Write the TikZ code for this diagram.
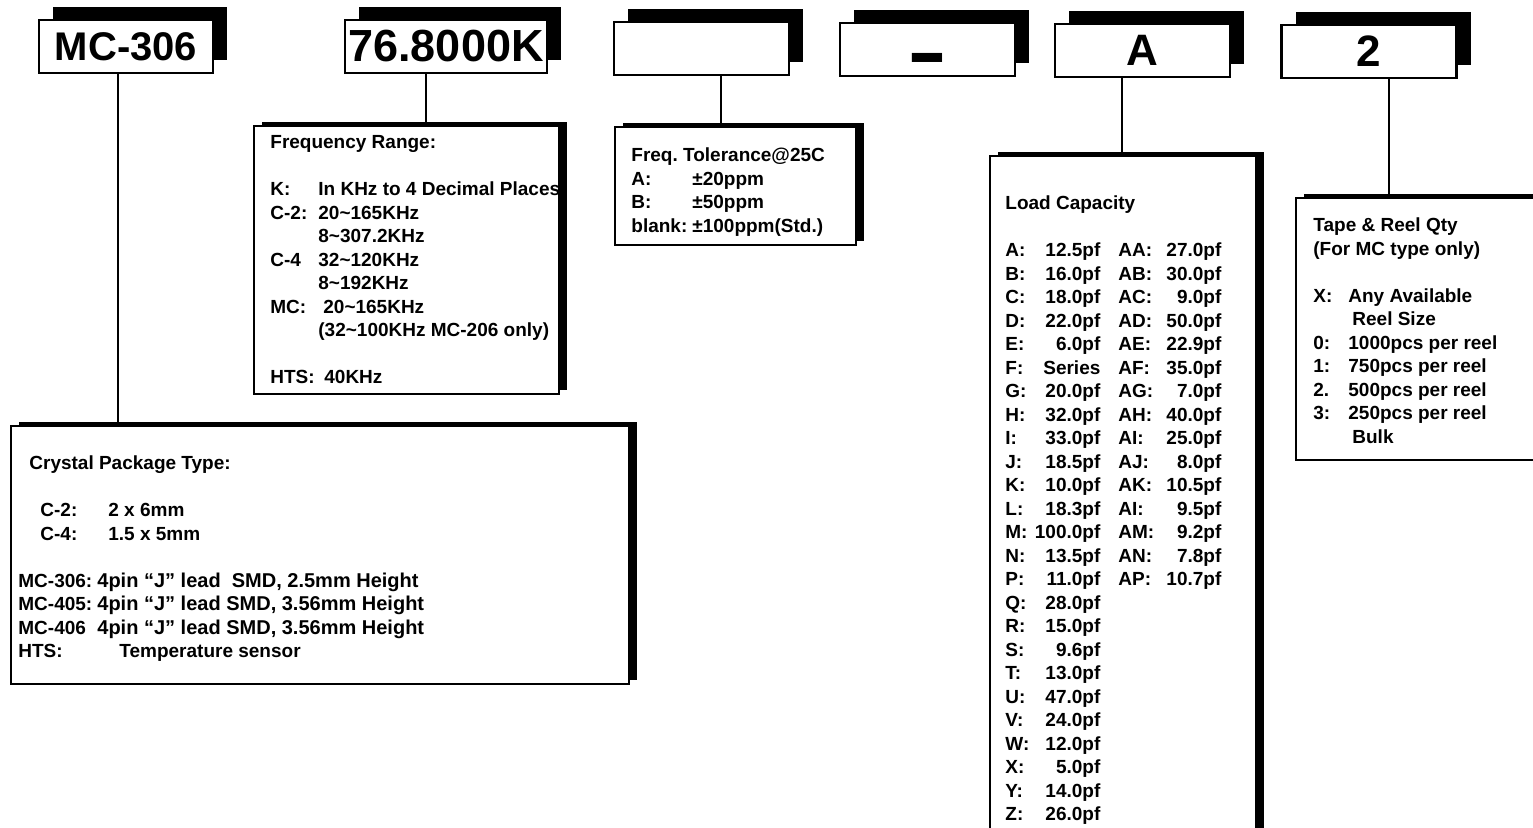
\documentclass[tikz,border=0pt]{standalone}
\usepackage{fontspec}
\setmainfont{Liberation Sans}
\usepackage{array}
\usetikzlibrary{shadows}

\newcolumntype{R}[1]{>{\raggedleft\arraybackslash}p{#1}}
\newcommand{\wave}{\textasciitilde}
\frenchspacing

\tikzset{
    codebox/.style={draw, line width=1.2pt, fill=white, inner sep=0pt,
        minimum width=87.5pt, minimum height=26.5pt, font=\bfseries,
        drop shadow={shadow xshift=7pt, shadow yshift=6.5pt, fill=black, opacity=1}},
    infobox/.style={draw, line width=1pt, fill=white, inner sep=0pt, anchor=north west,
        drop shadow={shadow xshift=4pt, shadow yshift=2pt, fill=black, opacity=1}},
    infotext/.style={anchor=base west, inner sep=0pt,
        font=\bfseries\fontsize{9.5}{11.75}\selectfont},
    link/.style={line width=1.1pt}
}

\begin{document}
\begin{tikzpicture}[x=0.5pt,y=-0.5pt]
    \useasboundingbox (0,0) rectangle (1533,828);
    \clip (0,0) rectangle (1533,828);

    % riga in alto: codice d'ordine
    \node[codebox, minimum width=87pt, font=\bfseries\fontsize{20}{20}\selectfont] (mc) at (126,46.5) {MC-306};
    \node[codebox, minimum width=101pt, font=\bfseries\fontsize{22.5}{22.5}\selectfont] (freqcode) at (446,46.5) {76.8000K};
    \node[codebox] (tolcode) at (701.5,48.5) {};
    \node[codebox] (dashcode) at (927.5,49.5) {};
    \node[anchor=base, inner sep=0pt, font=\bfseries\fontsize{30.5}{30.5}\selectfont] (dashmark) at (927.5,83) {\scalebox{1}[1.5]{–}};
    \node[codebox, font=\bfseries\fontsize{22}{22}\selectfont] (loadcode) at (1142.5,50.5) {A};
    \node[codebox, font=\bfseries\fontsize{22}{22}\selectfont] (reelcode) at (1369,51.5) {2};

    % riquadri descrittivi
    \node[infobox, minimum width=309pt, minimum height=129pt] (pkgbox) at (10,425) {};
    \node[infobox, minimum width=152.5pt, minimum height=134pt] (freqbox) at (253,125) {};
    \node[infobox, minimum width=120.5pt, minimum height=59pt] (tolbox) at (614,126) {};
    \node[infobox, minimum width=133pt, minimum height=350pt] (loadbox) at (989,155) {};
    \node[infobox, minimum width=135pt, minimum height=131pt] (reelbox) at (1295,197) {};

    % collegamenti
    \coordinate (mctap) at (118,0);
    \coordinate (freqtap) at (426,0);
    \coordinate (toltap) at (721,0);
    \coordinate (loadtap) at (1122,0);
    \coordinate (reeltap) at (1389,0);
    \draw[link] (mc.south -| mctap) -- (pkgbox.north -| mctap);
    \draw[link] (freqcode.south -| freqtap) -- (freqbox.north -| freqtap);
    \draw[link] (tolcode.south -| toltap) -- (tolbox.north -| toltap);
    \draw[link] (loadcode.south -| loadtap) -- (loadbox.north -| loadtap);
    \draw[link] (reelcode.south -| reeltap) -- (reelbox.north -| reeltap);

    % testi
    \node[infotext] (freqtext) at (270,149) {\begin{tabular}[t]{@{}p{24pt}@{}l@{}}
        \multicolumn{2}{@{}l@{}}{Frequency Range:}\\
        \\
        K: & In KHz to 4 Decimal Places\\
        C-2: & 20\wave165KHz\\
         & 8\wave307.2KHz\\
        C-4 & 32\wave120KHz\\
         & 8\wave192KHz\\
        MC: & \hspace{2.5pt}20\wave165KHz\\
         & (32\wave100KHz MC-206 only)\\
        \\
        HTS: & \hspace{3pt}40KHz
    \end{tabular}};

    \node[infotext] (toltext) at (631,162) {\begin{tabular}[t]{@{}p{30.5pt}@{}l@{}}
        \multicolumn{2}{@{}l@{}}{Freq. Tolerance@25C}\\
        A: & ±20ppm\\
        B: & ±50ppm\\
        blank: & ±100ppm(Std.)
    \end{tabular}};

    \node[infotext] (pkgtext) at (18,470) {\begin{tabular}[t]{@{}p{39.5pt}@{}l@{}}
        \multicolumn{2}{@{}l@{}}{\hspace{5.5pt}Crystal Package Type:}\\
        \\
        \hspace{11pt}C-2: & \hspace{5.5pt}2 x 6mm\\
        \hspace{11pt}C-4: & \hspace{5.5pt}1.5 x 5mm\\
        \\
        MC-306: & \fontsize{10}{11.75}\selectfont 4pin “J” lead\ \ SMD, 2.5mm Height\\
        MC-405: & \fontsize{10}{11.75}\selectfont 4pin “J” lead SMD, 3.56mm Height\\
        MC-406 & \fontsize{10}{11.75}\selectfont 4pin “J” lead SMD, 3.56mm Height\\
        HTS: & \hspace{11pt}Temperature sensor
    \end{tabular}};

    \node[infotext] (loadtext) at (1005,210) {\begin{tabular}[t]{@{}p{11pt}@{}R{36.5pt}@{\hspace{9pt}}p{20pt}@{}R{31.5pt}@{}}
        \multicolumn{4}{@{}l@{}}{Load Capacity}\\
        \\
        A: & 12.5pf & AA: & 27.0pf\\
        B: & 16.0pf & AB: & 30.0pf\\
        C: & 18.0pf & AC: & 9.0pf\\
        D: & 22.0pf & AD: & 50.0pf\\
        E: & 6.0pf & AE: & 22.9pf\\
        F: & Series & AF: & 35.0pf\\
        G: & 20.0pf & AG: & 7.0pf\\
        H: & 32.0pf & AH: & 40.0pf\\
        I: & 33.0pf & AI: & 25.0pf\\
        J: & 18.5pf & AJ: & 8.0pf\\
        K: & 10.0pf & AK: & 10.5pf\\
        L: & 18.3pf & AI: & 9.5pf\\
        M: & 100.0pf & AM: & 9.2pf\\
        N: & 13.5pf & AN: & 7.8pf\\
        P: & 11.0pf & AP: & 10.7pf\\
        Q: & 28.0pf & & \\
        R: & 15.0pf & & \\
        S: & 9.6pf & & \\
        T: & 13.0pf & & \\
        U: & 47.0pf & & \\
        V: & 24.0pf & & \\
        W: & 12.0pf & & \\
        X: & 5.0pf & & \\
        Y: & 14.0pf & & \\
        Z: & 26.0pf & &
    \end{tabular}};

    \node[infotext] (reeltext) at (1313,232) {\begin{tabular}[t]{@{}p{17.5pt}@{}l@{}}
        \multicolumn{2}{@{}l@{}}{Tape \& Reel Qty}\\
        \multicolumn{2}{@{}l@{}}{(For MC type only)}\\
        \\
        X: & Any Available\\
         & \hspace{2pt}Reel Size\\
        0: & 1000pcs per reel\\
        1: & 750pcs per reel\\
        2. & 500pcs per reel\\
        3: & 250pcs per reel\\
         & \hspace{2pt}Bulk
    \end{tabular}};
\end{tikzpicture}
\end{document}
